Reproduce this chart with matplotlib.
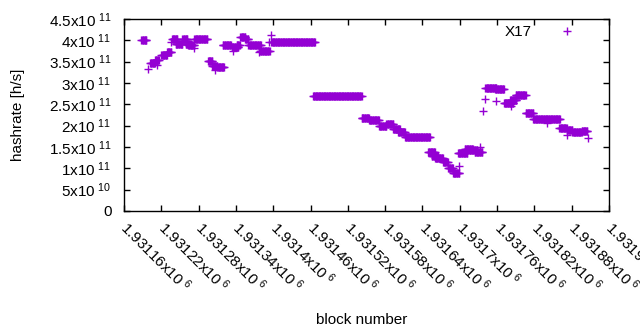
import numpy as np
import matplotlib
matplotlib.use('Agg')
import matplotlib.pyplot as plt

plt.rcParams['font.family'] = ['Liberation Sans', 'DejaVu Sans']
plt.rcParams['mathtext.fontset'] = 'custom'
plt.rcParams['mathtext.rm'] = 'Liberation Sans'
plt.rcParams['mathtext.default'] = 'regular'

# runs of blocks sharing one hashrate value: first block, last block, hashrate [h/s]
run_start = [1931188, 1931199, 1931202, 1931210, 1931213, 1931220, 1931229, 1931235,
             1931237, 1931243, 1931254, 1931259, 1931263, 1931273, 1931273, 1931295,
             1931302, 1931307, 1931310, 1931319, 1931335, 1931333, 1931341, 1931347,
             1931355, 1931360, 1931377, 1931379, 1931396, 1931393, 1931397, 1931464,
             1931542, 1931554, 1931570, 1931582, 1931593, 1931601, 1931612, 1931649,
             1931655, 1931660, 1931673, 1931681, 1931689, 1931699, 1931697, 1931708,
             1931716, 1931724, 1931732, 1931737, 1931741, 1931741, 1931757, 1931758,
             1931771, 1931782, 1931781, 1931790, 1931806, 1931818, 1931840, 1931860,
             1931873, 1931872, 1931881, 1931896, 1931907]
run_end = [1931196, 1931199, 1931210, 1931216, 1931213, 1931229, 1931236, 1931235,
           1931246, 1931254, 1931262, 1931267, 1931273, 1931273, 1931294, 1931302,
           1931310, 1931307, 1931321, 1931332, 1931335, 1931344, 1931346, 1931355,
           1931360, 1931380, 1931377, 1931394, 1931396, 1931393, 1931467, 1931542,
           1931554, 1931570, 1931582, 1931593, 1931604, 1931612, 1931652, 1931660,
           1931665, 1931673, 1931681, 1931689, 1931699, 1931699, 1931712, 1931721,
           1931728, 1931736, 1931732, 1931737, 1931741, 1931759, 1931771, 1931758,
           1931786, 1931782, 1931791, 1931806, 1931818, 1931861, 1931840, 1931872,
           1931873, 1931881, 1931896, 1931905, 1931907]
run_rate = [4.00e11, 3.33e11, 3.48e11, 3.53e11, 3.42e11, 3.65e11, 3.73e11, 3.95e11,
            4.02e11, 3.92e11, 4.03e11, 3.92e11, 3.90e11, 3.82e11, 4.03e11, 3.52e11,
            3.40e11, 3.30e11, 3.38e11, 3.90e11, 3.74e11, 3.84e11, 3.90e11, 4.07e11,
            4.02e11, 3.90e11, 3.73e11, 3.76e11, 4.12e11, 3.95e11, 3.97e11, 2.70e11,
            2.19e11, 2.13e11, 1.99e11, 2.04e11, 1.92e11, 1.85e11, 1.73e11, 1.38e11,
            1.30e11, 1.24e11, 1.15e11, 1.00e11, 0.90e11, 1.06e11, 1.35e11, 1.46e11,
            1.43e11, 1.38e11, 1.50e11, 2.34e11, 2.62e11, 2.88e11, 2.85e11, 2.58e11,
            2.54e11, 2.46e11, 2.60e11, 2.71e11, 2.29e11, 2.15e11, 2.06e11, 1.94e11,
            1.78e11, 1.91e11, 1.85e11, 1.87e11, 1.70e11]

x_ticks = [1931160, 1931220, 1931280, 1931340, 1931400, 1931460, 1931520,
           1931580, 1931640, 1931700, 1931760, 1931820, 1931880, 1931940]
x_labels = ['1.93116', '1.93122', '1.93128', '1.93134', '1.9314', '1.93146', '1.93152',
            '1.93158', '1.93164', '1.9317', '1.93176', '1.93182', '1.93188', '1.93194']
y_ticks = [0, 0.5e11, 1e11, 1.5e11, 2e11, 2.5e11, 3e11, 3.5e11, 4e11, 4.5e11]
y_labels = ['0', r'5x10$^{\ 10}$', r'1x10$^{\ 11}$', r'1.5x10$^{\ 11}$', r'2x10$^{\ 11}$',
            r'2.5x10$^{\ 11}$', r'3x10$^{\ 11}$', r'3.5x10$^{\ 11}$', r'4x10$^{\ 11}$',
            r'4.5x10$^{\ 11}$']

blocks = []
rates = []
for s, e, r in zip(run_start, run_end, run_rate):
    b = np.arange(s, e + 1)
    blocks.extend(b)
    rates.extend([r] * len(b))

fsize = 11
col = '#9400d3'

fig = plt.figure(figsize=(6.4, 3.3), dpi=100)
ax = fig.add_axes([124/640, 1 - 211/330, 485/640, 192/330])
ax.plot(blocks, rates, '+', color=col, markersize=6, markeredgewidth=1.0, label='X17')

ax.set_xlim(1931160, 1931940)
ax.set_ylim(0, 4.5e11)
ax.set_xticks(x_ticks)
ax.set_xticklabels([l + r'x10$^{\ 6}$' for l in x_labels], rotation=-45, ha='left',
                   va='center', rotation_mode='anchor', fontsize=fsize)
ax.set_yticks(y_ticks)
ax.set_yticklabels(y_labels, fontsize=fsize)
ax.tick_params(direction='in', top=True, right=True, length=4, width=1, pad=9)
ax.tick_params(axis='x', pad=10)
for sp in ax.spines.values():
    sp.set_linewidth(1)

ax.set_xlabel('block number', fontsize=fsize)
ax.set_ylabel('hashrate [h/s]', fontsize=fsize)
ax.xaxis.set_label_coords(0.49, -0.53)
ax.yaxis.set_label_coords(-0.205, 0.5)

ax.legend(loc='upper right', bbox_to_anchor=((582 - 124) / 485, 1 - 6/192), frameon=False,
          markerfirst=False, handlelength=2, handletextpad=1.3, borderpad=0,
          borderaxespad=0, fontsize=fsize)

plt.savefig('out.png', dpi=100)
